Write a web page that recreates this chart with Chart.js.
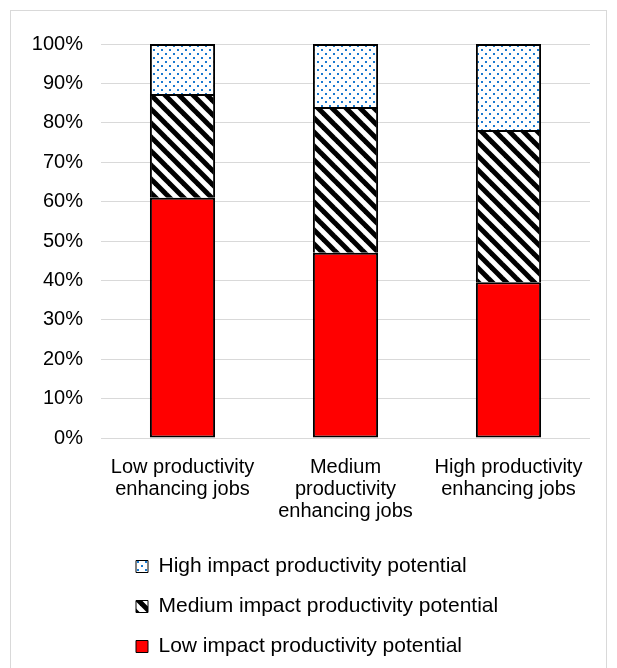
<!DOCTYPE html>
<html>
<head>
<meta charset="utf-8">
<script src="https://cdn.jsdelivr.net/npm/chart.js@4"></script>
<style>
  html, body { margin: 0; padding: 0; background: #fff; }
  canvas { display: block; }
</style>
</head>
<body>
<canvas id="c" width="617" height="668"></canvas>
<script>
const categories = [
  ["Low productivity", "enhancing jobs"],
  ["Medium", "productivity", "enhancing jobs"],
  ["High productivity", "enhancing jobs"]
];
const seriesNames = [
  "Low impact productivity potential",
  "Medium impact productivity potential",
  "High impact productivity potential"
];
const lowImpact = [61, 47, 39.5];
const mediumImpact = [26.3, 37, 38.7];
const highImpact = [12.7, 16, 21.8];
const yTicks = [0, 10, 20, 30, 40, 50, 60, 70, 80, 90, 100];

function makeDots() {
  const t = document.createElement('canvas');
  t.width = 8; t.height = 8;
  const g = t.getContext('2d');
  g.fillStyle = '#fff'; g.fillRect(0, 0, 8, 8);
  g.fillStyle = '#1a7ad0';
  g.fillRect(1, 1, 2, 2);
  g.fillRect(5, 5, 2, 2);
  return g.createPattern(t, 'repeat');
}
function makeHatch() {
  const s = 14;
  const t = document.createElement('canvas');
  t.width = s; t.height = s;
  const g = t.getContext('2d');
  g.fillStyle = '#fff'; g.fillRect(0, 0, s, s);
  g.strokeStyle = '#000'; g.lineWidth = 5;
  for (const k of [-s, 0, s]) {
    g.beginPath();
    g.moveTo(k - 3, -3);
    g.lineTo(k + s + 3, s + 3);
    g.stroke();
  }
  return g.createPattern(t, 'repeat');
}

Chart.defaults.font.family = "'Liberation Sans', Arial, sans-serif";
Chart.defaults.font.size = 20;
Chart.defaults.color = '#000';

const framePlugin = {
  id: 'frame',
  beforeDraw(chart) {
    const ctx = chart.ctx;
    ctx.save();
    ctx.strokeStyle = '#d9d9d9';
    ctx.lineWidth = 1;
    ctx.strokeRect(10.5, 10.5, 596, 700);
    ctx.restore();
  },
  afterLayout(chart) {
    if (chart.legend) chart.legend.left = 117;
  }
};

const ctx = document.getElementById('c').getContext('2d');
new Chart(ctx, {
  type: 'bar',
  data: {
    labels: categories,
    datasets: [
      {
        label: seriesNames[0], data: lowImpact,
        backgroundColor: '#ff0000', borderColor: '#000',
        borderWidth: 2, borderSkipped: false
      },
      {
        label: seriesNames[1], data: mediumImpact,
        backgroundColor: makeHatch(), borderColor: '#000',
        borderWidth: {top: 2, left: 2, right: 2, bottom: 0}, borderSkipped: false
      },
      {
        label: seriesNames[2], data: highImpact,
        backgroundColor: makeDots(), borderColor: '#000',
        borderWidth: {top: 2, left: 2, right: 2, bottom: 0}, borderSkipped: false
      }
    ]
  },
  options: {
    responsive: false,
    animation: false,
    devicePixelRatio: 1,
    layout: { padding: { top: 44, left: 32, right: 27, bottom: 1 } },
    datasets: { bar: { categoryPercentage: 1, barPercentage: 0.4 } },
    scales: {
      x: {
        stacked: true,
        grid: { display: false, drawTicks: false },
        border: { display: false },
        ticks: { padding: 19, font: { size: 20, lineHeight: 1.08 }, maxRotation: 0, autoSkip: false },
        afterFit(scale) { scale.height = 99; }
      },
      y: {
        stacked: true,
        min: 0, max: 100,
        afterBuildTicks(scale) { scale.ticks = yTicks.map(v => ({ value: v })); },
        grid: { color: '#d9d9d9', lineWidth: 1, drawTicks: false },
        border: { display: false },
        ticks: { padding: 18, font: { size: 20 }, callback: v => v + '%' },
        afterFit(scale) { scale.width = 69; }
      }
    },
    plugins: {
      tooltip: { enabled: false },
      legend: {
        position: 'bottom',
        align: 'start',
        reverse: true,
        labels: {
          boxWidth: 12, boxHeight: 12, padding: 19,
          font: { size: 21 },
          generateLabels(chart) {
            const items = Chart.defaults.plugins.legend.labels.generateLabels(chart);
            return items.map(it => Object.assign(it, { lineWidth: 1, strokeStyle: '#000' }));
          }
        }
      }
    }
  },
  plugins: [framePlugin]
});
</script>
</body>
</html>
